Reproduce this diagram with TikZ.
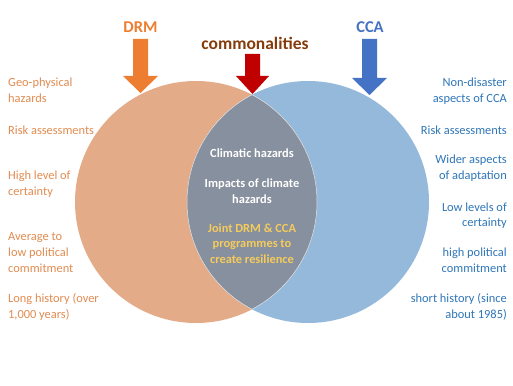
\documentclass[tikz,border=0pt]{standalone}
\usepackage{fontspec}
\setmainfont{Carlito}
\definecolor{drmfill}{HTML}{E3AB88}
\definecolor{ccafill}{HTML}{95B9DB}
\definecolor{overlapfill}{HTML}{87909E}
\definecolor{drmarrow}{HTML}{ED7D31}
\definecolor{comarrow}{HTML}{C00000}
\definecolor{ccaarrow}{HTML}{4472C4}
\definecolor{comtext}{HTML}{843C0C}
\definecolor{drmtext}{HTML}{E08B50}
\definecolor{ccatext}{HTML}{2E75B6}
\definecolor{jointtext}{HTML}{F5CB5C}
\begin{document}
\begin{tikzpicture}[x=1pt,y=-1pt,
  sidetxt/.style={inner sep=0pt,font=\fontsize{12.4}{15.6}\selectfont},
  lefttxt/.style={sidetxt,text=drmtext,anchor=west,align=left},
  righttxt/.style={sidetxt,text=ccatext,anchor=east,align=right},
  midtxt/.style={inner sep=0pt,align=center,font=\bfseries\fontsize{12.4}{15.6}\selectfont},
  headtxt/.style={inner sep=0pt,font=\bfseries\fontsize{16.5}{18}\selectfont}]
\useasboundingbox (0,0) rectangle (513,385);
% circles
\fill[drmfill] (196,202) circle (121);
\fill[ccafill] (308,202) circle (121);
\begin{scope}
  \clip (196,202) circle (121);
  \fill[overlapfill] (308,202) circle (121);
\end{scope}
\begin{scope}
  \clip (196,202) circle (121);
  \draw[white!80!gray,line width=0.5pt] (308,202) circle (121);
\end{scope}
\begin{scope}
  \clip (308,202) circle (121);
  \draw[white!80!gray,line width=0.5pt] (196,202) circle (121);
\end{scope}
% arrows
\fill[drmarrow] (133,39) -- (148,39) -- (148,76) -- (158,76) -- (140.5,93) -- (123,76) -- (133,76) -- cycle;
\fill[comarrow] (245,54) -- (260,54) -- (260,76) -- (269,76) -- (252.5,94) -- (236,76) -- (245,76) -- cycle;
\fill[ccaarrow] (362,39) -- (377,39) -- (377,78) -- (387,78) -- (369.5,95) -- (352,78) -- (362,78) -- cycle;
% headings
\node[headtxt,text=drmarrow] (drm) at (140.5,27) {DRM};
\node[headtxt,text=ccaarrow] (cca) at (370,27) {CCA};
\node[headtxt,text=comtext,font=\bfseries\fontsize{17.5}{19}\selectfont] (com) at (255,43) {commonalities};
% left texts
\node[lefttxt] (l1) at (8,90.5) {Geo-physical\\hazards};
\node[lefttxt] (l2) at (8,130) {Risk assessments};
\node[lefttxt] (l3) at (8,184) {High level of\\certainty};
\node[lefttxt] (l4) at (8,252.5) {Average to\\low political\\commitment};
\node[lefttxt] (l5) at (8,307) {Long history (over\\1,000 years)};
% right texts
\node[righttxt] (r1) at (507,91) {Non-disaster\\aspects of CCA};
\node[righttxt] (r2) at (507,130) {Risk assessments};
\node[righttxt] (r3) at (507,168) {Wider aspects\\of adaptation};
\node[righttxt] (r4) at (507,215.5) {Low levels of\\certainty};
\node[righttxt] (r5) at (507,260.5) {high political\\commitment};
\node[righttxt] (r6) at (507,307) {short history (since\\about 1985)};
% middle texts
\node[midtxt,text=white] (m1) at (252,153) {Climatic hazards};
\node[midtxt,text=white] (m2) at (252,191) {Impacts of climate\\hazards};
\node[midtxt,text=jointtext] (m3) at (252,243.5) {Joint DRM \& CCA\\programmes to\\create resilience};
\end{tikzpicture}
\end{document}
